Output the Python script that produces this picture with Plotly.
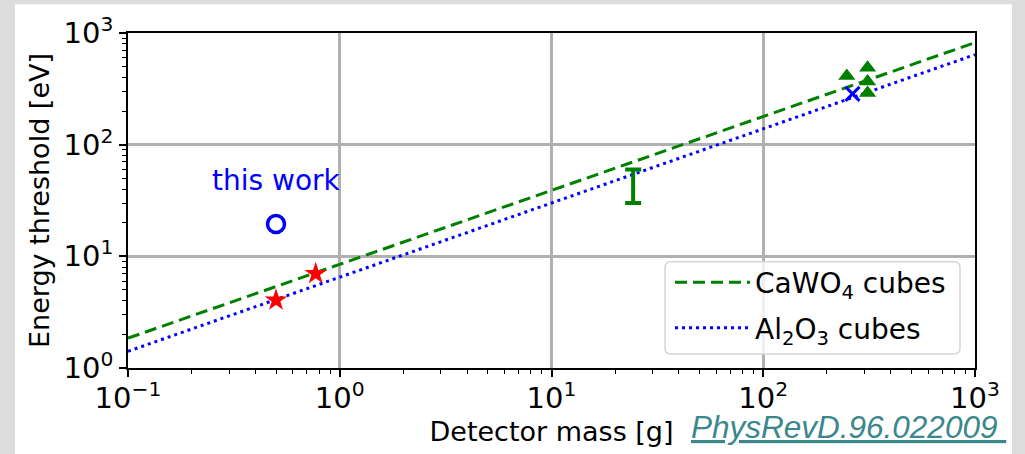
import numpy as np
import plotly.graph_objects as go

# ---- data ----
fit_mass = [0.1, 1000]
cawo4_fit = [1.85, 820]
al2o3_fit = [1.41, 640]

this_work_mass = [0.5]
this_work_thr = [19.5]

star_mass = [0.5, 0.77]
star_thr = [4.05, 7.0]

bar_mass = [24.3]
bar_center = [45]
bar_plus = [15]
bar_minus = [15]

tri_mass = [248, 311, 311, 311]
tri_thr = [412, 489, 367, 290]

x_mass = [264]
x_thr = [285]

x_tickvals = [0.1, 1, 10, 100, 1000]
x_ticktext = ["10<sup>\u22121</sup>", "10<sup>0</sup>", "10<sup>1</sup>", "10<sup>2</sup>", "10<sup>3</sup>"]
y_tickvals = [1, 10, 100, 1000]
y_ticktext = ["10<sup>0</sup>", "10<sup>1</sup>", "10<sup>2</sup>", "10<sup>3</sup>"]

FONT = "DejaVu Sans"
GREEN = "#008000"
BLUE = "#0000ff"
RED = "#ff0000"

W, H = 1025, 454
L, R, T, B = 128, 50, 33, 84
PW, PH = W - L - R, H - T - B


def px(x):
    return (x - L) / PW


def py(y):
    return (H - B - y) / PH


fig = go.Figure()

fig.add_trace(go.Scatter(x=fit_mass, y=cawo4_fit, mode="lines",
                         line=dict(color=GREEN, width=3, dash="12px,6px"),
                         name="CaWO<sub>4</sub> cubes", legendgroup="a"))
fig.add_trace(go.Scatter(x=fit_mass, y=al2o3_fit, mode="lines",
                         line=dict(color=BLUE, width=3, dash="3px,4px"),
                         name="Al<sub>2</sub>O<sub>3</sub> cubes", legendgroup="b"))

fig.add_trace(go.Scatter(x=this_work_mass, y=this_work_thr, mode="markers",
                         marker=dict(symbol="circle-open", size=17, color=BLUE,
                                     line=dict(width=3.5, color=BLUE)),
                         showlegend=False))
fig.add_trace(go.Scatter(x=star_mass, y=star_thr, mode="markers",
                         marker=dict(symbol="star", size=17, color=RED, line=dict(width=0)),
                         showlegend=False))
fig.add_trace(go.Scatter(x=bar_mass, y=bar_center, mode="markers",
                         marker=dict(size=1, color=GREEN, opacity=0),
                         error_y=dict(type="data", symmetric=False, array=bar_plus,
                                      arrayminus=bar_minus, color=GREEN, thickness=4, width=8),
                         showlegend=False))
fig.add_trace(go.Scatter(x=tri_mass, y=tri_thr, mode="markers",
                         marker=dict(symbol="triangle-up", size=15, color=GREEN, line=dict(width=0)),
                         showlegend=False))
fig.add_trace(go.Scatter(x=x_mass, y=x_thr, mode="markers",
                         marker=dict(symbol="x-thin", size=14, color=BLUE,
                                     line=dict(width=3, color=BLUE)),
                         showlegend=False))

x_minor = [m * 10.0 ** k for k in range(-1, 3) for m in range(2, 10)]
y_minor = [m * 10.0 ** k for k in range(0, 3) for m in range(2, 10)]

axis_common = dict(
    showline=True, linecolor="black", linewidth=1.8, mirror=True,
    showgrid=True, gridcolor="#b0b0b0", gridwidth=2.5,
    ticks="outside", ticklen=7, tickwidth=1.5, tickcolor="black",
    tickfont=dict(family=FONT, size=29, color="black"),
    zeroline=False,
)

fig.update_xaxes(type="log", range=[-1, 3], tickvals=x_tickvals, ticktext=x_ticktext,
                 ticklabelstandoff=-4,
                 minor=dict(tickvals=x_minor, ticks="outside", ticklen=4, tickwidth=1,
                            tickcolor="black", showgrid=False),
                 title=dict(text="Detector mass [g]", font=dict(family=FONT, size=27, color="black"),
                            standoff=8),
                 **axis_common)
fig.update_yaxes(type="log", range=[0, 3], tickvals=y_tickvals, ticktext=y_ticktext,
                 minor=dict(tickvals=y_minor, ticks="outside", ticklen=4, tickwidth=1,
                            tickcolor="black", showgrid=False),
                 title=dict(text="Energy threshold [eV]", font=dict(family=FONT, size=27, color="black"),
                            standoff=6),
                 **axis_common)

# page panel
shapes = [dict(type="rect", xref="paper", yref="paper", layer="below",
               x0=px(15), x1=px(1012), y0=py(470), y1=py(4),
               fillcolor="white", line=dict(width=0))]

# rounded legend frame
lx0, lx1, ly0, ly1 = px(665), px(960), py(356), py(263)
rx, ry = 6 / PW, 6 / PH
path = (f"M{lx0+rx},{ly0} L{lx1-rx},{ly0} Q{lx1},{ly0} {lx1},{ly0+ry} "
        f"L{lx1},{ly1-ry} Q{lx1},{ly1} {lx1-rx},{ly1} L{lx0+rx},{ly1} "
        f"Q{lx0},{ly1} {lx0},{ly1-ry} L{lx0},{ly0+ry} Q{lx0},{ly0} {lx0+rx},{ly0} Z")
shapes.append(dict(type="path", xref="paper", yref="paper", layer="above", path=path,
                   fillcolor="rgba(255,255,255,0.8)", line=dict(color="#d5d5d5", width=1.5)))

annotations = [
    dict(x=np.log10(0.5), y=np.log10(48), xref="x", yref="y", text="this work",
         showarrow=False, font=dict(family=FONT, size=28, color=BLUE),
         xanchor="center", yanchor="middle"),
    dict(x=px(689), y=py(429), xref="paper", yref="paper",
         text="<i><u>PhysRevD.96.022009\u00a0</u></i>", showarrow=False,
         font=dict(family="Liberation Sans", size=31.5, color="#3a878c"),
         xanchor="left", yanchor="middle"),
]

fig.update_layout(
    width=W, height=H,
    margin=dict(l=L, r=R, t=T, b=B, pad=0),
    paper_bgcolor="#dcdcdc", plot_bgcolor="white",
    shapes=shapes, annotations=annotations,
    showlegend=True,
    legend=dict(x=px(670), y=py(259), xanchor="left", yanchor="top",
                bgcolor="rgba(0,0,0,0)", borderwidth=0,
                font=dict(family=FONT, size=28, color="black"),
                itemwidth=75, tracegroupgap=6),
)

fig.write_html("out.html")
